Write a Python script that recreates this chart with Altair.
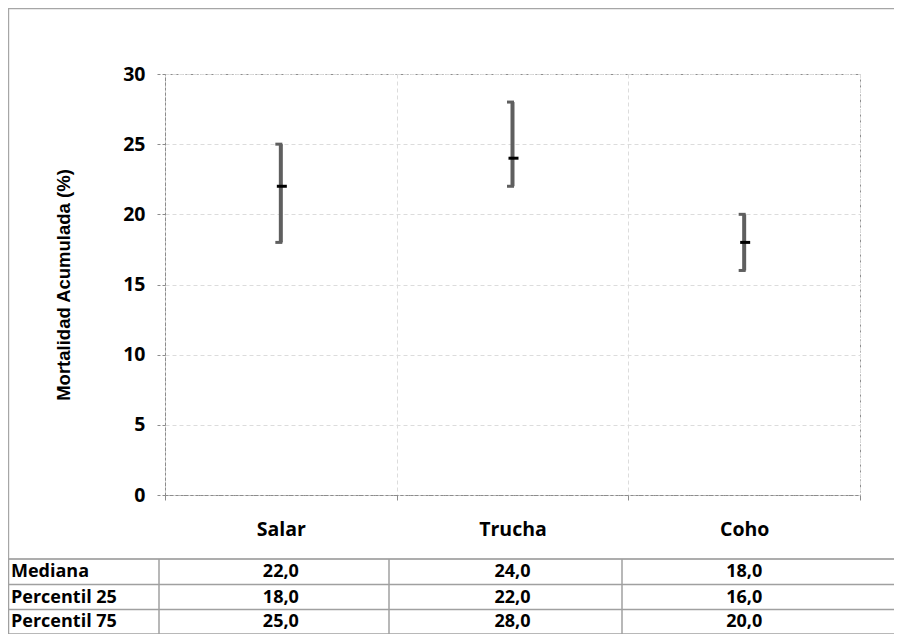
import altair as alt
import pandas as pd

categories = ["Salar", "Trucha", "Coho"]
mediana = [22.0, 24.0, 18.0]
p25 = [18.0, 22.0, 16.0]
p75 = [25.0, 28.0, 20.0]
row_labels = ["Mediana", "Percentil 25", "Percentil 75"]
y_ticks = [0, 5, 10, 15, 20, 25, 30]

def fmt(v):
    return f"{v:.1f}".replace(".", ",")

df = pd.DataFrame({
    "cat": categories,
    "med": mediana,
    "p25": p25,
    "p75": p75,
    "med_t": [fmt(v) for v in mediana],
    "p25_t": [fmt(v) for v in p25],
    "p75_t": [fmt(v) for v in p75],
})

W, H = 695, 421
LABEL_FONT = "Open Sans"
GRAY = "#5f5f5f"

xenc = alt.X("cat:N", scale=alt.Scale(type="band", domain=categories, paddingInner=0, paddingOuter=0),
             axis=alt.Axis(title=None, labelAngle=0, tickBand="extent", grid=True,
                           labelFont=LABEL_FONT, labelFontWeight="bold", labelFontSize=19.5,
                           labelColor="black", labelPadding=20, tickSize=5,
                           tickColor="#8c8c8c", domainColor="#8c8c8c", domainDash=[3, 2],
                           gridColor="#dcdcdc", gridDash=[4, 3]))
yscale = alt.Scale(domain=[0, 30], nice=False, zero=True)
yaxis = alt.Axis(values=y_ticks, title="Mortalidad Acumulada (%)", grid=True,
                 gridColor="#dcdcdc", gridDash=[4, 3],
                 domainColor="#8c8c8c", domainDash=[3, 2],
                 tickColor="#8c8c8c", tickSize=8, tickDash=[3, 2],
                 labelFont=LABEL_FONT, labelFontWeight="bold", labelFontSize=19.5,
                 labelColor="black", labelPadding=12,
                 titleFont="Liberation Sans", titleFontWeight="bold", titleFontSize=18.5,
                 titleColor="black", titleX=-102, titleY=H / 2, titleAngle=270,
                 titleAlign="center", titleBaseline="middle")

base = alt.Chart(df)

bars = base.mark_rule(color=GRAY, strokeWidth=4).encode(
    x=xenc,
    y=alt.Y("p25:Q", scale=yscale, axis=yaxis),
    y2="p75:Q",
)
cap_top = base.mark_tick(orient="horizontal", size=7, thickness=3, xOffset=-2, color=GRAY, opacity=1).encode(
    x=alt.X("cat:N"), y=alt.Y("p75:Q"))
cap_bot = base.mark_tick(orient="horizontal", size=7, thickness=3, xOffset=-2, color=GRAY, opacity=1).encode(
    x=alt.X("cat:N"), y=alt.Y("p25:Q"))
med = base.mark_tick(orient="horizontal", size=10, thickness=3, xOffset=1, color="black", opacity=1).encode(
    x=alt.X("cat:N"), y=alt.Y("med:Q"))

one = alt.Chart(pd.DataFrame({"k": [0]}))

frame = one.mark_rect(fill=None, stroke="#a6a6a6", strokeWidth=1.2).encode(
    x=alt.value(-156.4), x2=alt.value(780), y=alt.value(-65.4), y2=alt.value(485))

# table grid (pixel offsets from the plot origin)
row_edges = [485, 510.5, 535.5, 560]
col_edges = [-156.5, -6, 224, 457]
lines = []
LINE = "#a0a0a0"
for yy in row_edges:
    lines.append(one.mark_rule(color=LINE, strokeWidth=1.5).encode(
        x=alt.value(-158), x2=alt.value(780), y=alt.value(yy)))
for xx in col_edges:
    lines.append(one.mark_rule(color=LINE, strokeWidth=1.5).encode(
        x=alt.value(xx), y=alt.value(row_edges[0]), y2=alt.value(row_edges[-1])))

row_y = [(row_edges[i] + row_edges[i + 1]) / 2 + 0.5 for i in range(3)]
texts = []
for lab, yy in zip(row_labels, row_y):
    texts.append(alt.Chart(pd.DataFrame({"lab": [lab]})).mark_text(
        align="left", baseline="middle", font=LABEL_FONT, fontWeight="bold", fontSize=18, color="black"
    ).encode(x=alt.value(-154), y=alt.value(yy), text="lab:N"))
for field, yy in zip(["med_t", "p25_t", "p75_t"], row_y):
    texts.append(base.mark_text(
        align="center", baseline="middle", font=LABEL_FONT, fontWeight="bold", fontSize=18, color="black"
    ).encode(x=alt.X("cat:N"), y=alt.value(yy), text=f"{field}:N"))

chart = alt.layer(frame, bars, cap_top, cap_bot, med, *lines, *texts).properties(
    width=W, height=H,
    autosize=alt.AutoSizeParams(type="none"),
    padding={"left": 157, "top": 66, "right": 34, "bottom": 139},
).configure_view(stroke="#8c8c8c", strokeDash=[3, 2], strokeWidth=1)

chart.save("out.html", embed_options={"renderer": "svg", "actions": False})
